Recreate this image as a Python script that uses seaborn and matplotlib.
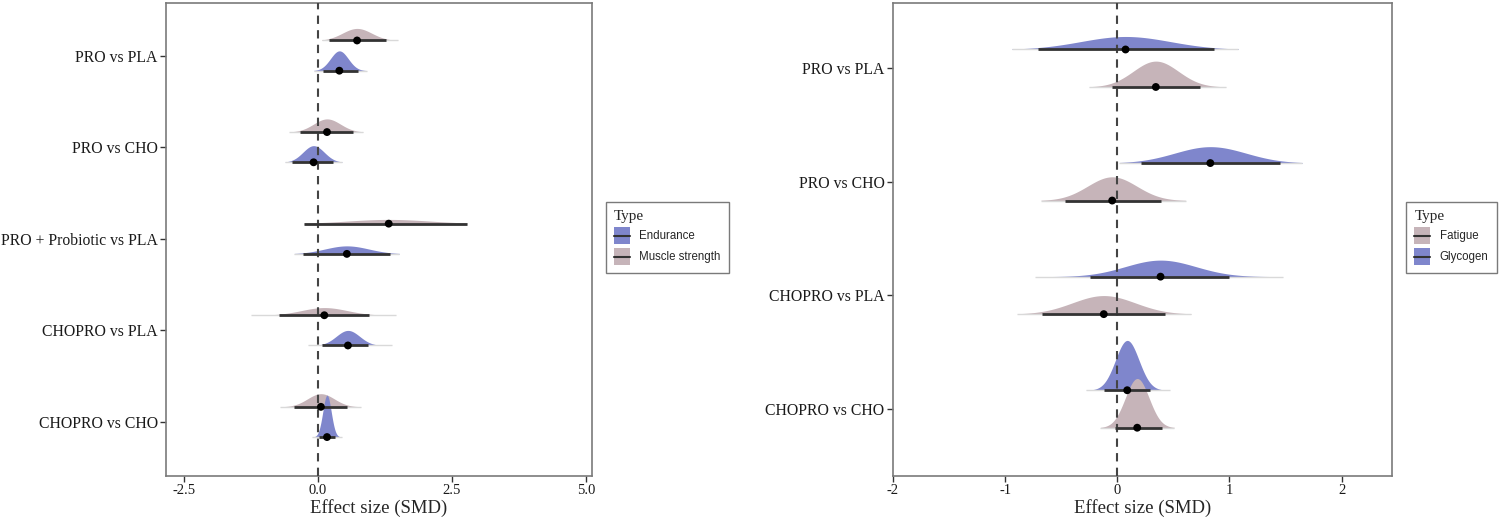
import numpy as np
import pandas as pd
import matplotlib
matplotlib.use("Agg")
import matplotlib.pyplot as plt
import seaborn as sns
from matplotlib.patches import Patch, Rectangle
from matplotlib.lines import Line2D
from matplotlib.legend_handler import HandlerBase

# ---- data (SMD point, thick interval, thin interval) ----
left_comparisons = ["PRO vs PLA", "PRO vs CHO", "PRO + Probiotic vs PLA",
                    "CHOPRO vs PLA", "CHOPRO vs CHO"]
endurance_mid = [0.40, -0.08, 0.54, 0.56, 0.17]
endurance_lo = [0.09, -0.485, -0.27, 0.074, 0.012]
endurance_hi = [0.74, 0.29, 1.34, 0.93, 0.32]
endurance_lo_thin = [-0.08, -0.61, -0.44, -0.19, -0.11]
endurance_hi_thin = [0.91, 0.45, 1.52, 1.39, 0.45]

strength_mid = [0.73, 0.17, 1.32, 0.12, 0.056]
strength_lo = [0.20, -0.33, -0.255, -0.72, -0.44]
strength_hi = [1.27, 0.65, 2.78, 0.96, 0.54]
strength_lo_thin = [0.075, -0.53, -0.255, -1.25, -0.70]
strength_hi_thin = [1.49, 0.84, 2.78, 1.46, 0.80]

right_comparisons = ["PRO vs PLA", "PRO vs CHO", "CHOPRO vs PLA", "CHOPRO vs CHO"]
fatigue_mid = [0.344, -0.045, -0.12, 0.178]
fatigue_lo = [-0.05, -0.47, -0.67, -0.02]
fatigue_hi = [0.74, 0.39, 0.43, 0.395]
fatigue_lo_thin = [-0.25, -0.68, -0.89, -0.15]
fatigue_hi_thin = [0.97, 0.61, 0.66, 0.51]

glycogen_mid = [0.074, 0.83, 0.386, 0.089]
glycogen_lo = [-0.71, 0.21, -0.24, -0.12]
glycogen_hi = [0.86, 1.455, 0.995, 0.29]
glycogen_lo_thin = [-0.94, 0.02, -0.73, -0.28]
glycogen_hi_thin = [1.08, 1.65, 1.48, 0.47]

BLUE = "#7f86cc"
PINK = "#c6b4b9"

sns.set_theme(style="white")
plt.rcParams["font.family"] = ["Liberation Serif", "DejaVu Serif"]


class HandlerBoxLine(HandlerBase):
    # filled square with the interval line through its middle (ggdist style key)
    def create_artists(self, legend, orig_handle, xdescent, ydescent, width, height,
                       fontsize, trans):
        rect = Rectangle((-xdescent, -ydescent), width, height,
                         facecolor=orig_handle.get_facecolor(), edgecolor="none",
                         transform=trans)
        ymid = -ydescent + height / 2
        line = Line2D([-xdescent, -xdescent + width], [ymid, ymid], color="#333333",
                      lw=1.5, transform=trans)
        return [rect, line]


def make_df(comparisons, mid, lo, hi, lo_thin, hi_thin, label):
    return pd.DataFrame({"comparison": comparisons, "mid": mid, "lo": lo, "hi": hi,
                         "lo_thin": lo_thin, "hi_thin": hi_thin, "Type": label})


def draw_panel(ax, comparisons, groups, k, xlim, xticks, xticklabels):
    # groups: list of (df, color, offset); offset>0 -> lower row
    n = len(comparisons)
    for df, color, off in groups:
        for i, row in df.reset_index(drop=True).iterrows():
            base = i + off
            sd = (row["hi"] - row["lo"]) / 3.92
            x = np.linspace(row["lo_thin"], row["hi_thin"], 300)
            dens = np.exp(-0.5 * ((x - row["mid"]) / sd) ** 2) / (sd * np.sqrt(2 * np.pi))
            ax.fill_between(x, base, base - k * dens, color=color, lw=0, zorder=2)
    ax.axvline(0, color="#444444", ls=(0, (4, 3)), lw=1.5, zorder=3)
    for df, color, off in groups:
        y = np.arange(n) + off
        ax.hlines(y, df["lo_thin"], df["hi_thin"], color="#d9d9d9", lw=1, zorder=4)
        ax.hlines(y, df["lo"], df["hi"], color="#333333", lw=2.0, zorder=4)
        pts = df.assign(ypos=y)
        sns.scatterplot(data=pts, x="mid", y="ypos", color="black", s=32,
                        edgecolor="none", ax=ax, zorder=5, legend=False)
    ax.set_xlim(*xlim)
    ax.set_ylim(n - 1 + 0.59, -0.575)
    ax.set_yticks(range(n))
    ax.set_yticklabels(comparisons, fontsize=11.3)
    ax.set_xticks(xticks)
    ax.set_xticklabels(xticklabels, fontsize=10.5)
    ax.set_xlabel("Effect size (SMD)", fontsize=13.5, labelpad=1)
    ax.set_ylabel("")
    for s in ax.spines.values():
        s.set_color("#7a7a7a")
        s.set_linewidth(1.2)
    ax.tick_params(axis="both", which="both", direction="out", length=4, width=1,
                   color="#333333", labelcolor="#1a1a1a", left=True, bottom=True, pad=2)


def add_legend(fig, entries, anchor):
    handles = [Patch(facecolor=c, edgecolor="none") for _, c in entries]
    labels = [l for l, _ in entries]
    leg = fig.legend(handles, labels, title="Type", loc="upper left", bbox_to_anchor=anchor,
                     handler_map={Patch: HandlerBoxLine()},
                     prop={"family": "Liberation Sans", "size": 8.3},
                     title_fontproperties={"family": "Liberation Serif", "size": 11},
                     frameon=True, fancybox=False, edgecolor="#7a7a7a", framealpha=1,
                     handlelength=1.35, handleheight=1.85, handletextpad=0.85,
                     labelspacing=0.38, borderpad=0.7, borderaxespad=0,
                     alignment="left")
    leg.get_frame().set_linewidth(1.0)


fig = plt.figure(figsize=(15, 5.21), dpi=100)
ax1 = fig.add_axes([0.1107, 0.0864, 0.2840, 0.9080])
ax2 = fig.add_axes([0.5953, 0.0864, 0.3327, 0.9080])

endurance = make_df(left_comparisons, endurance_mid, endurance_lo, endurance_hi,
                    endurance_lo_thin, endurance_hi_thin, "Endurance")
strength = make_df(left_comparisons, strength_mid, strength_lo, strength_hi,
                   strength_lo_thin, strength_hi_thin, "Muscle strength")
draw_panel(ax1, left_comparisons, [(strength, PINK, -0.165), (endurance, BLUE, 0.165)],
           k=0.09, xlim=(-2.83, 5.11), xticks=[-2.5, 0, 2.5, 5.0],
           xticklabels=["-2.5", "0.0", "2.5", "5.0"])

fatigue = make_df(right_comparisons, fatigue_mid, fatigue_lo, fatigue_hi,
                  fatigue_lo_thin, fatigue_hi_thin, "Fatigue")
glycogen = make_df(right_comparisons, glycogen_mid, glycogen_lo, glycogen_hi,
                   glycogen_lo_thin, glycogen_hi_thin, "Glycogen")
draw_panel(ax2, right_comparisons, [(glycogen, BLUE, -0.165), (fatigue, PINK, 0.165)],
           k=0.115, xlim=(-2.0, 2.45), xticks=[-2, -1, 0, 1, 2],
           xticklabels=["-2", "-1", "0", "1", "2"])

add_legend(fig, [("Endurance", BLUE), ("Muscle strength", PINK)], (0.404, 0.6128))
add_legend(fig, [("Fatigue", PINK), ("Glycogen", BLUE)], (0.9375, 0.6128))

fig.savefig("out.png", dpi=100)
